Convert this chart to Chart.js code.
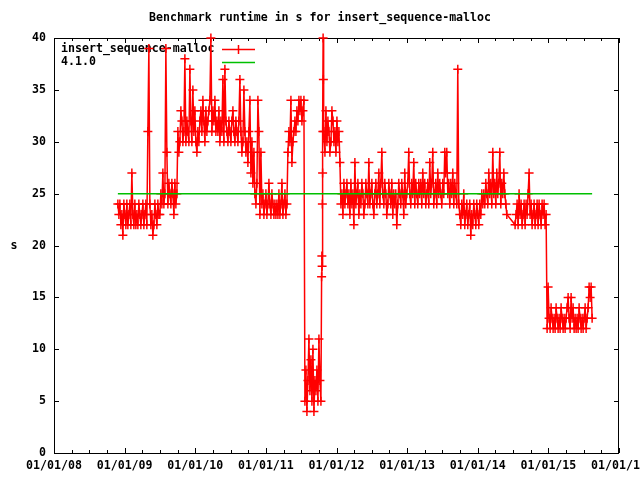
<!DOCTYPE html>
<html>
<head>
<meta charset="utf-8">
<script src="https://cdn.jsdelivr.net/npm/chart.js@4/dist/chart.umd.min.js"></script>
<style>
  html, body { margin: 0; padding: 0; background: #fff; }
  #wrap { width: 640px; height: 480px; }
</style>
</head>
<body>
<div id="wrap"><canvas id="chart" width="640" height="480"></canvas></div>
<script>
// Labels
const titleText = 'Benchmark runtime in s for insert_sequence-malloc';
const yAxisLabel = 's';
const seriesNames = ['insert_sequence-malloc', '4.1.0'];

// Axis ticks
const yearTicks = [2008, 2009, 2010, 2011, 2012, 2013, 2014, 2015, 2016];
const xTickLabels = ['01/01/08', '01/01/09', '01/01/10', '01/01/11', '01/01/12',
                     '01/01/13', '01/01/14', '01/01/15', '01/01/16'];
const yTicks = [0, 5, 10, 15, 20, 25, 30, 35, 40];

// Benchmark runs: each run starts at a date, one measurement every few days
const runStarts = ['2008-11-27', '2011-10-16', '2011-10-28', '2014-07-13'];
const runStepDays = [5.17, 1.3, 5.17, 5.17];

const run1Values = [
    24,23,24,22,23,21,24,23,22,24, 22,23,24,22,27,23,22,24,22,23,
    22,24,23,22,23,24,22,23,24,22, 31,39,
    24,22,23,21,22,24,23,22,24,23,
    23,25,24,27,24,25,39,29,24,26,25,24,26,25,23,26,24,25,
    31,29,30,33,32,30,31,38,30,32, 31,30,37,32,30,35,31,33,30,29,
    31,30,32,33,31,34,32,30,33,31, 32,33,34,40,31,33,32,34,31,32,
    31,33,30,32,31,36,30,37,32,31, 30,32,31,30,32,33,31,30,32,31,
    30,32,36,31,29,30,35,31,29,30, 28,31,34,27,30,26,29,25,
    24,26,34,31,23,29,24,25,23,24, 25,23,24,26,24,23,25,24,23,24,
    23,24,23,25,23,24,26,23,24,25, 23,24,
    29,31,30,34,28,30,31,32,31,33,32,34,33,34,32,33,34,
    5,8,4,7,11,6,9,5,10,4,7,6,8,5,11,7,5
];
const run2Values = [17,19,18,24,27,31,40,36];
const run3Values = [
    31,29,33,30,32,31,29,30,33,32,30,31,29,32,30,31,28,
    24,25,23,26,24,25,26,24,25,
    23,26,24,25,22,28,24,25,26,23, 25,24,26,25,23,24,26,25,24,28,
    24,25,26,24,23,25,26,24,25,27, 24,26,29,25,24,26,25,23,24,26,
    25,24,26,23,25,24,25,22,24,26, 25,24,26,25,23,27,24,25,26,29,
    25,24,26,25,28,24,26,25,24,26, 25,26,24,27,25,26,24,25,26,24,
    28,25,26,29,24,25,26,24,27,25, 26,25,24,26,25,29,27,29,25,26,
    24,26,25,27,24,26,25,24,
    37,
    24,23,22,24,23,25,22,23,24,22, 23,24,21,23,22,24,23,22,24,23,
    22,24,23,25,24,
    25,24,26,25,24,27,25,26,24,29, 25,26,24,27,25,26,29,24,26,25,
    27,25,24,23
];
const run4Values = [
    22,23,24,22,25,23,24,22,23,24, 22,24,23,25,27,23,24,22,23,24,
    22,23,24,22,24,23,22,24,23,24, 22,23,
    12,16,13,12,14,13,12,13,12,14, 13,12,13,12,14,13,12,13,12,13,
    14,15,13,12,15,13,14,12,13,12, 13,12,14,13,12,13,12,13,14,12,
    13,14,16,15,16,13
];
const runValues = [run1Values, run2Values, run3Values, run4Values];

// Reference runtime of version 4.1.0
const refValue = 25;

const red = '#ff0000';
const green = '#00c000';
const font = 'bold 11.6px "DejaVu Sans Mono", monospace';

// date + offset in days -> decimal year
function toYear(dateStr, days) {
    const t = Date.parse(dateStr + 'T00:00:00Z') + days * 86400000;
    const y = new Date(t).getUTCFullYear();
    const y0 = Date.UTC(y, 0, 1), y1 = Date.UTC(y + 1, 0, 1);
    return y + (t - y0) / (y1 - y0);
}

const runtimePoints = [];
runValues.forEach((vals, r) => {
    vals.forEach((v, i) => {
        runtimePoints.push({ x: toYear(runStarts[r], i * runStepDays[r]), y: v });
    });
});
const refPoints = [
    { x: runtimePoints[0].x, y: refValue },
    { x: runtimePoints[runtimePoints.length - 1].x, y: refValue }
];

// gnuplot-ish frame: border, inward ticks, labels, key
const gnuplotFrame = {
    id: 'gnuplotFrame',
    beforeDatasetsDraw(chart) {
        const ctx = chart.ctx;
        const area = chart.chartArea;
        const xs = chart.scales.x, ys = chart.scales.y;
        ctx.save();
        ctx.strokeStyle = '#000';
        ctx.fillStyle = '#000';
        ctx.lineWidth = 1;
        ctx.font = font;

        // border
        ctx.strokeRect(area.left + 0.5, area.top + 0.5,
                       area.right - area.left - 1, area.bottom - area.top);

        // x ticks (major + quarter minors), mirrored on top
        ctx.beginPath();
        for (let i = 0; i < yearTicks.length; i++) {
            for (let q = 0; q < 4; q++) {
                if (i === yearTicks.length - 1 && q > 0) break;
                const px = Math.round(xs.getPixelForValue(yearTicks[i] + q / 4)) + 0.5;
                const len = q === 0 ? 5 : 3;
                ctx.moveTo(px, area.bottom);
                ctx.lineTo(px, area.bottom - len);
                ctx.moveTo(px, area.top);
                ctx.lineTo(px, area.top + len);
            }
        }
        // y ticks, mirrored on right
        yTicks.forEach(v => {
            const py = Math.round(ys.getPixelForValue(v)) + 0.5;
            ctx.moveTo(area.left, py);
            ctx.lineTo(area.left + 5, py);
            ctx.moveTo(area.right, py);
            ctx.lineTo(area.right - 5, py);
        });
        ctx.stroke();

        // tick labels
        ctx.textBaseline = 'middle';
        ctx.textAlign = 'center';
        yearTicks.forEach((yr, i) => {
            ctx.fillText(xTickLabels[i], xs.getPixelForValue(yr), area.bottom + 13);
        });
        ctx.textAlign = 'right';
        yTicks.forEach(v => {
            ctx.fillText(String(v), area.left - 8, ys.getPixelForValue(v));
        });

        // title and y label
        ctx.textAlign = 'center';
        ctx.fillText(titleText, 320, 18);
        ctx.fillText(yAxisLabel, 14, 246);

        // key
        ctx.textAlign = 'left';
        const keyX = area.left + 7;
        ctx.fillText(seriesNames[0], keyX, area.top + 11);
        ctx.fillText(seriesNames[1], keyX, area.top + 24);
        ctx.lineWidth = 1.5;
        ctx.strokeStyle = red;
        ctx.beginPath();
        ctx.moveTo(222, area.top + 11.5);
        ctx.lineTo(255, area.top + 11.5);
        ctx.moveTo(238.5, area.top + 7);
        ctx.lineTo(238.5, area.top + 16);
        ctx.stroke();
        ctx.strokeStyle = green;
        ctx.beginPath();
        ctx.moveTo(222, area.top + 24.5);
        ctx.lineTo(255, area.top + 24.5);
        ctx.stroke();
        ctx.restore();
    }
};

new Chart(document.getElementById('chart'), {
    type: 'line',
    data: {
        datasets: [{
            label: seriesNames[0],
            data: runtimePoints,
            borderColor: red,
            backgroundColor: red,
            borderWidth: 1.5,
            pointStyle: 'cross',
            pointRadius: 4.5,
            pointBorderWidth: 1.5,
            pointBorderColor: red,
            tension: 0,
            clip: false,
            order: 1
        }, {
            label: seriesNames[1],
            data: refPoints,
            borderColor: green,
            borderWidth: 1.5,
            pointRadius: 0,
            tension: 0,
            order: 0
        }]
    },
    options: {
        responsive: false,
        animation: false,
        events: [],
        layout: { padding: { left: 54, right: 21, top: 38, bottom: 27 } },
        plugins: {
            legend: { display: false },
            title: { display: false },
            tooltip: { enabled: false }
        },
        scales: {
            x: { type: 'linear', min: 2008, max: 2016, display: false },
            y: { type: 'linear', min: 0, max: 40, display: false }
        }
    },
    plugins: [gnuplotFrame]
});
</script>
</body>
</html>
